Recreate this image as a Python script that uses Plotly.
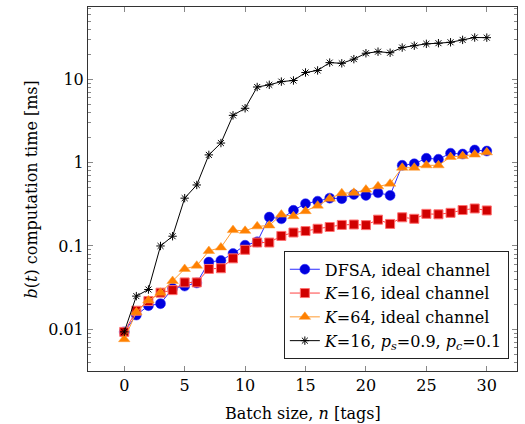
import plotly.graph_objects as go

n = list(range(31))

dfsa = [0.0093, 0.0148, 0.0192, 0.0203, 0.031, 0.033, 0.036, 0.064, 0.067, 0.081, 0.102,
        0.112, 0.222, 0.212, 0.268, 0.322, 0.345, 0.375, 0.37, 0.415, 0.405, 0.435, 0.405,
        0.93, 0.97, 1.13, 1.1, 1.3, 1.27, 1.42, 1.38]
k16 = [0.0093, 0.0167, 0.0218, 0.0275, 0.0295, 0.0365, 0.0365, 0.053, 0.054, 0.071, 0.09,
       0.11, 0.11, 0.132, 0.145, 0.151, 0.161, 0.169, 0.179, 0.181, 0.178, 0.207, 0.184,
       0.221, 0.212, 0.243, 0.24, 0.25, 0.27, 0.282, 0.267]
k64 = [0.0076, 0.0160, 0.0222, 0.0275, 0.038, 0.053, 0.058, 0.087, 0.096, 0.155, 0.152,
       0.172, 0.176, 0.238, 0.228, 0.262, 0.305, 0.37, 0.43, 0.435, 0.475, 0.52, 0.56,
       0.87, 0.87, 0.93, 0.93, 1.17, 1.2, 1.25, 1.33]
k16_err = [0.0093, 0.025, 0.030, 0.100, 0.131, 0.375, 0.54, 1.24, 1.72, 3.7, 4.5,
           8.1, 8.6, 9.4, 9.7, 12.1, 12.8, 15.9, 15.6, 17.5, 20.6, 21.5, 20.9,
           24.1, 25.4, 26.7, 27.2, 27.9, 29.8, 31.8, 31.7]

names = ["DFSA, ideal channel",
         "<i>K</i>=16, ideal channel",
         "<i>K</i>=64, ideal channel",
         "<i>K</i>=16, <i>p<sub>s</sub></i>=0.9, <i>p<sub>c</sub></i>=0.1"]

x_title = "Batch size, <i>n</i> [tags]"
y_title = "<i>b</i>(<i>t</i>) computation time [ms]"

fig = go.Figure()
fig.add_trace(go.Scatter(x=n, y=dfsa, name=names[0], mode="lines+markers",
                         line=dict(color="#2a2aff", width=1),
                         marker=dict(symbol="circle", size=10, color="#0000dd",
                                     line=dict(color="#2a2aff", width=0.5))))
fig.add_trace(go.Scatter(x=n, y=k16, name=names[1], mode="lines+markers",
                         line=dict(color="#ff4040", width=1),
                         marker=dict(symbol="square", size=9, color="#d00000",
                                     line=dict(color="#ff7070", width=1))))
fig.add_trace(go.Scatter(x=n, y=k64, name=names[2], mode="lines+markers",
                         line=dict(color="#ff9a30", width=1),
                         marker=dict(symbol="triangle-up", size=10, color="#ff8000",
                                     line=dict(color="#ff9a30", width=0.5))))
fig.add_trace(go.Scatter(x=n, y=k16_err, name=names[3], mode="lines+markers",
                         line=dict(color="#000000", width=1),
                         marker=dict(symbol="asterisk-open", size=7, color="#000000",
                                     line=dict(color="#000000", width=1))))

font_family = "DejaVu Serif"
fs = 16

fig.update_layout(
    width=525, height=424,
    margin=dict(l=88, r=8, t=7, b=53, autoexpand=False),
    paper_bgcolor="white", plot_bgcolor="white",
    font=dict(family=font_family, size=fs, color="#000"),
    showlegend=True,
    legend=dict(x=0.981, y=0.032, xanchor="right", yanchor="bottom",
                bgcolor="white", bordercolor="#222", borderwidth=1,
                font=dict(family=font_family, size=fs), tracegroupgap=0,
                itemwidth=30),
    annotations=[
        dict(text=x_title, xref="paper", yref="paper", x=0.5, y=-0.085,
             xanchor="center", yanchor="top", showarrow=False,
             font=dict(family=font_family, size=fs)),
        dict(text=y_title, xref="paper", yref="paper", x=-0.105, y=0.5,
             xanchor="right", yanchor="middle", textangle=-90, showarrow=False,
             font=dict(family=font_family, size=fs)),
    ],
)
fig.update_xaxes(
    range=[-3, 32.5], tickvals=[0, 5, 10, 15, 20, 25, 30],
    showgrid=False, zeroline=False, automargin=False,
    showline=True, linecolor="#333", linewidth=1, mirror="allticks",
    ticks="inside", ticklen=5, tickcolor="#888",
    tickfont=dict(family=font_family, size=fs),
)
fig.update_yaxes(
    type="log", range=[-2.501, 1.869],
    tickvals=[0.01, 0.1, 1, 10], ticktext=["0.01", "0.1", "1", "10"],
    showgrid=False, zeroline=False, automargin=False,
    showline=True, linecolor="#333", linewidth=1, mirror="allticks",
    ticks="inside", ticklen=5, tickcolor="#888",
    minor=dict(ticks="inside", ticklen=3, tickcolor="#888", showgrid=False,
               tickvals=[m * 10 ** e for e in range(-3, 2) for m in range(2, 10)]),
    tickfont=dict(family=font_family, size=fs),
)

fig.write_html("out.html", config={"displayModeBar": False},
               post_script="document.body.style.margin='0px';")
